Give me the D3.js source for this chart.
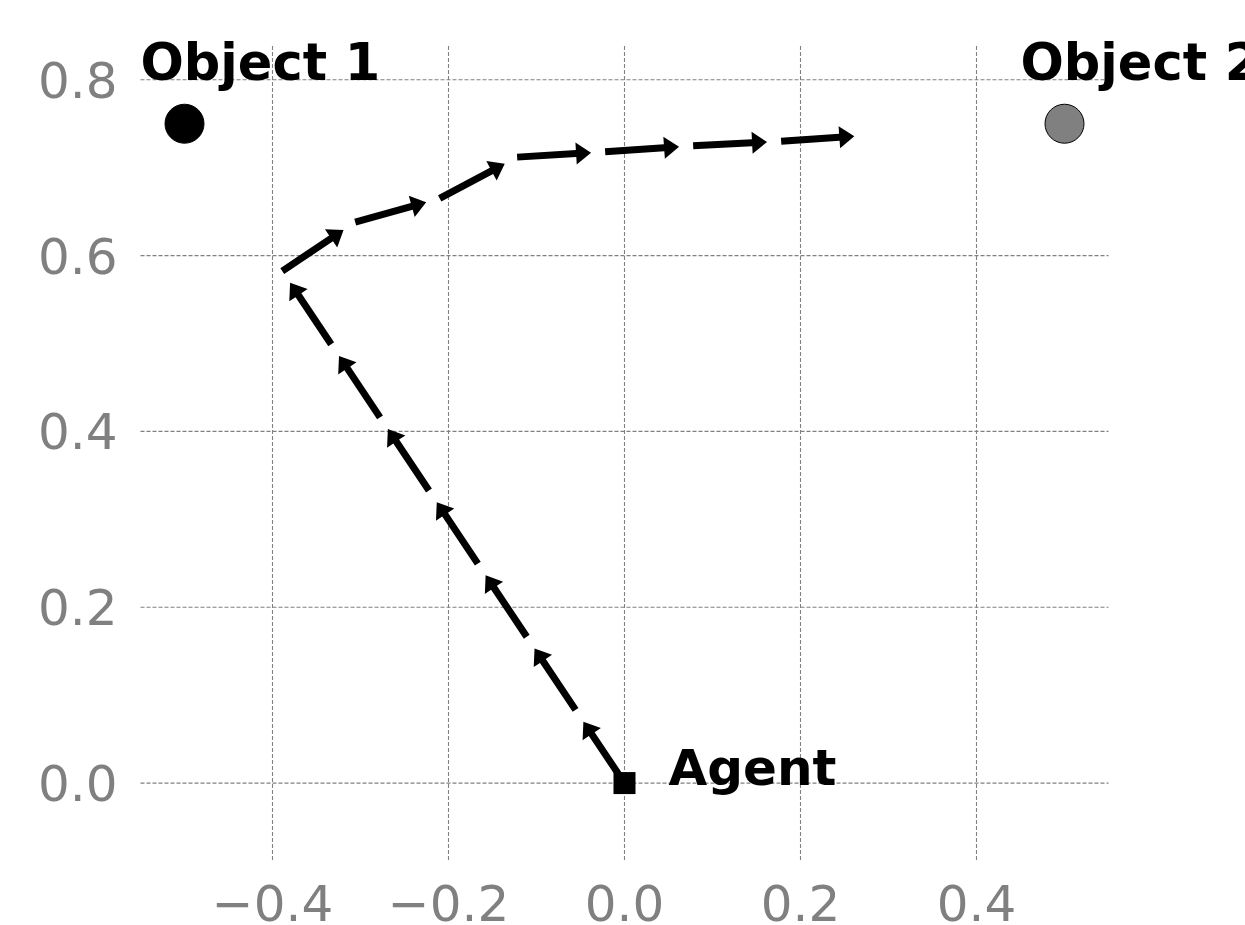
<!DOCTYPE html>
<html>
<head>
<meta charset="utf-8">
<script src="https://cdn.jsdelivr.net/npm/d3@7"></script>
<style>
  body { margin: 0; background: #fff; }
  svg { display: block; }
  text { font-family: "DejaVu Sans", sans-serif; }
</style>
</head>
<body>
<svg id="root"></svg>
<script>
(function () {
  // tick values
  const xTicks = [-0.4, -0.2, 0.0, 0.2, 0.4];
  const yTicks = [0.0, 0.2, 0.4, 0.6, 0.8];

  // objects and agent
  const objectNames = ["Object 1", "Object 2"];
  const objectX = [-0.5, 0.5];
  const objectY = [0.75, 0.75];
  const agentName = "Agent";
  const agentX = 0.0;
  const agentY = 0.0;

  // agent trajectory
  const trajX = [0.0, -0.0556, -0.1111, -0.1667, -0.2222, -0.2778, -0.3333, -0.3889,
                 -0.306, -0.210, -0.122, -0.022, 0.078, 0.178, 0.277];
  const trajY = [0.0, 0.0832, 0.1664, 0.2496, 0.3328, 0.4160, 0.4992, 0.5824,
                 0.638, 0.665, 0.712, 0.718, 0.725, 0.730, 0.737];

  const W = 1245, H = 925;
  const objectFill = ["#000000", "#808080"];

  let svg = d3.select("#root")
    .attr("width", W)
    .attr("height", H)
    .attr("viewBox", [0, 0, W, H].join(" "));

  let x = d3.scaleLinear().domain([-0.55, 0.55]).range([140.5, 1108.5]);
  let y = d3.scaleLinear().domain([-0.0875, 0.84]).range([860, 44.6]);

  // grid
  let grid = svg.append("g");
  grid.selectAll(".vgrid")
    .data(xTicks)
    .enter().append("line")
    .attr("x1", d => x(d)).attr("x2", d => x(d))
    .attr("y1", y.range()[0]).attr("y2", y.range()[1])
    .attr("stroke", "#808080")
    .attr("stroke-width", 1.1)
    .attr("stroke-dasharray", "4,2");
  grid.selectAll(".hgrid")
    .data(yTicks)
    .enter().append("line")
    .attr("y1", d => y(d)).attr("y2", d => y(d))
    .attr("x1", x.range()[0]).attr("x2", x.range()[1])
    .attr("stroke", "#808080")
    .attr("stroke-width", 1.1)
    .attr("stroke-dasharray", "4,2");

  // tick labels
  let fmt = d => d3.format(".1f")(d).replace("-", "\u2212");
  svg.append("g").selectAll("text")
    .data(xTicks)
    .enter().append("text")
    .attr("x", d => x(d))
    .attr("y", y.range()[0] + 61)
    .attr("text-anchor", "middle")
    .attr("fill", "#808080")
    .style("font-size", "50px")
    .text(fmt);
  svg.append("g").selectAll("text")
    .data(yTicks)
    .enter().append("text")
    .attr("x", x.range()[0] - 23)
    .attr("y", d => y(d) + 18)
    .attr("text-anchor", "end")
    .attr("fill", "#808080")
    .style("font-size", "50px")
    .text(fmt);

  // arrows: each step drawn as a quiver-like arrow, slightly shorter than the step
  const frac = 0.84, shaftW = 7, headL = 15, headW = 22;
  let arrows = [];
  for (let i = 0; i < trajX.length - 1; i++) {
    let x0 = x(trajX[i]), y0 = y(trajY[i]);
    let x1 = x(trajX[i + 1]), y1 = y(trajY[i + 1]);
    let dx = (x1 - x0) * frac, dy = (y1 - y0) * frac;
    let len = Math.hypot(dx, dy);
    let ux = dx / len, uy = dy / len;
    let nx = -uy, ny = ux;
    let tx = x0 + dx, ty = y0 + dy;
    let bx = tx - ux * headL, by = ty - uy * headL;
    arrows.push([
      [x0 + nx * shaftW / 2, y0 + ny * shaftW / 2],
      [bx + nx * shaftW / 2, by + ny * shaftW / 2],
      [bx + nx * headW / 2, by + ny * headW / 2],
      [tx, ty],
      [bx - nx * headW / 2, by - ny * headW / 2],
      [bx - nx * shaftW / 2, by - ny * shaftW / 2],
      [x0 - nx * shaftW / 2, y0 - ny * shaftW / 2]
    ]);
  }
  svg.append("g").selectAll("path")
    .data(arrows)
    .enter().append("path")
    .attr("d", d => "M" + d.map(p => p.join(",")).join("L") + "Z")
    .attr("fill", "#000");

  // objects
  svg.append("g").selectAll("circle")
    .data(objectNames)
    .enter().append("circle")
    .attr("cx", (d, i) => x(objectX[i]))
    .attr("cy", (d, i) => y(objectY[i]))
    .attr("r", 19.5)
    .attr("fill", (d, i) => objectFill[i])
    .attr("stroke", "#000")
    .attr("stroke-width", 1);

  svg.append("g").selectAll("text")
    .data(objectNames)
    .enter().append("text")
    .attr("x", (d, i) => x(objectX[i] - 0.05))
    .attr("y", (d, i) => y(objectY[i] + 0.05))
    .attr("fill", "#000")
    .style("font-size", "51px")
    .style("font-weight", "bold")
    .text(d => d);

  // agent
  svg.append("rect")
    .attr("x", x(agentX) - 11)
    .attr("y", y(agentY) - 11)
    .attr("width", 22)
    .attr("height", 22)
    .attr("fill", "#000");

  svg.append("text")
    .attr("x", x(agentX + 0.05))
    .attr("y", y(agentY) + 2)
    .attr("fill", "#000")
    .style("font-size", "50px")
    .style("font-weight", "bold")
    .text(agentName);
})();
</script>
</body>
</html>
